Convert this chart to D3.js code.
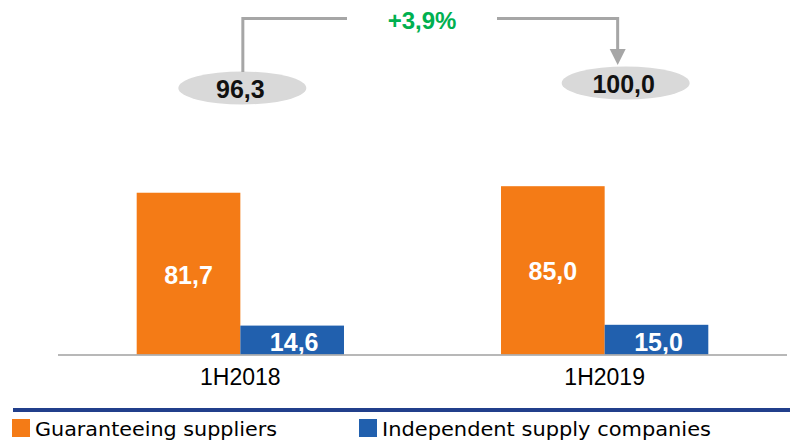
<!DOCTYPE html>
<html><head><meta charset="utf-8">
<script src="https://cdn.jsdelivr.net/npm/d3@7"></script>
<style>html,body{margin:0;padding:0;background:#fff;}</style>
</head><body>
<svg id="chart" width="790" height="442"></svg>
<script>
const categories = ["1H2018", "1H2019"];
const seriesNames = ["Guaranteeing suppliers", "Independent supply companies"];
const guaranteeing = [81.7, 85.0];
const independent = [14.6, 15.0];
const growthLabel = "+3,9%";
const colors = ["#f47b16", "#2160ae"];

const fmt = v => d3.format(".1f")(v).replace(".", ",");
const svg = d3.select("#chart");

const x = d3.scaleBand().domain(categories).range([58, 787]).paddingInner(0.431).paddingOuter(0.216);
const xs = d3.scaleBand().domain(seriesNames).range([0, x.bandwidth()]);
const y = d3.scaleLinear().domain([0, 100]).range([354.5, 156.5]);

const data = categories.map((c, i) => ({cat: c, vals: [guaranteeing[i], independent[i]]}));

// bars
const g = svg.selectAll("g.grp").data(data).join("g").attr("class", "grp")
  .attr("transform", d => `translate(${x(d.cat)},0)`);
g.selectAll("rect").data(d => d.vals.map((v, j) => ({v, s: seriesNames[j], j})))
  .join("rect")
  .attr("x", d => xs(d.s)).attr("width", xs.bandwidth())
  .attr("y", d => y(d.v)).attr("height", d => y(0) - y(d.v))
  .attr("fill", d => colors[d.j]);
g.selectAll("text.val").data(d => d.vals.map((v, j) => ({v, s: seriesNames[j], j})))
  .join("text").attr("class", "val")
  .attr("x", d => xs(d.s) + xs.bandwidth() / 2 + (d.j === 1 ? 2 : 0))
  .attr("y", d => d.j === 0 ? (y(d.v) + y(0)) / 2 + 10 : y(0) - 4)
  .attr("text-anchor", "middle")
  .attr("font-family", "Liberation Sans, Arial, sans-serif")
  .attr("font-weight", "bold").attr("font-size", 25).attr("fill", "#fff")
  .text(d => fmt(d.v));

// baseline
svg.append("line").attr("x1", 58).attr("x2", 787).attr("y1", y(0) + 0.5).attr("y2", y(0) + 0.5)
  .attr("stroke", "#a0a0a0").attr("stroke-width", 1.5);

// category axis labels
svg.selectAll("text.cat").data(categories).join("text").attr("class", "cat")
  .attr("x", d => x(d) + x.bandwidth() / 2).attr("y", 384.5)
  .attr("text-anchor", "middle")
  .attr("font-family", "Liberation Sans, Arial, sans-serif")
  .attr("font-size", 23).attr("fill", "#000").text(d => d);

// totals in ellipses
const totals = categories.map((c, i) => guaranteeing[i] + independent[i]);
const ellOff = [2, 21], ellCy = [88, 83];
const ex = i => x(categories[i]) + x.bandwidth() / 2 + ellOff[i];
totals.forEach((t, i) => {
  svg.append("ellipse").attr("cx", ex(i)).attr("cy", ellCy[i]).attr("rx", 64).attr("ry", 16.5)
    .attr("fill", "#d9d9d9");
  svg.append("text").attr("x", ex(i) - 2).attr("y", ellCy[i] + 10)
    .attr("text-anchor", "middle")
    .attr("font-family", "Liberation Sans, Arial, sans-serif")
    .attr("font-weight", "bold").attr("font-size", 25).attr("fill", "#111")
    .text(fmt(t));
});

// connector
const lc = "#a6a6a6", topY = 18.5;
const x1 = ex(0) + 0.5, x2 = ex(1) - 8;
svg.append("path").attr("d", `M${x1},${ellCy[0] - 16}V${topY}H347`)
  .attr("fill", "none").attr("stroke", lc).attr("stroke-width", 3);
svg.append("path").attr("d", `M497,${topY}H${x2}V50`)
  .attr("fill", "none").attr("stroke", lc).attr("stroke-width", 3);
svg.append("path").attr("d", `M${x2 - 8},49L${x2 + 8},49L${x2},65Z`).attr("fill", lc);
svg.append("text").attr("x", 422).attr("y", 29).attr("text-anchor", "middle")
  .attr("font-family", "Liberation Sans, Arial, sans-serif")
  .attr("font-weight", "bold").attr("font-size", 24).attr("fill", "#00b050")
  .text(growthLabel);

// legend
svg.append("line").attr("x1", 13).attr("x2", 790).attr("y1", 410).attr("y2", 410)
  .attr("stroke", "#213f8b").attr("stroke-width", 4);
const legX = [12, 359];
const legW = [242, 329];
seriesNames.forEach((s, i) => {
  svg.append("rect").attr("x", legX[i]).attr("y", 419).attr("width", 18).attr("height", 18).attr("fill", colors[i]);
  svg.append("text").attr("x", legX[i] + 23).attr("y", 436)
    .attr("font-family", "DejaVu Sans, sans-serif")
    .attr("font-size", 20).attr("fill", "#000")
    .attr("textLength", legW[i]).attr("lengthAdjust", "spacingAndGlyphs")
    .text(s);
});
</script>
</body></html>
